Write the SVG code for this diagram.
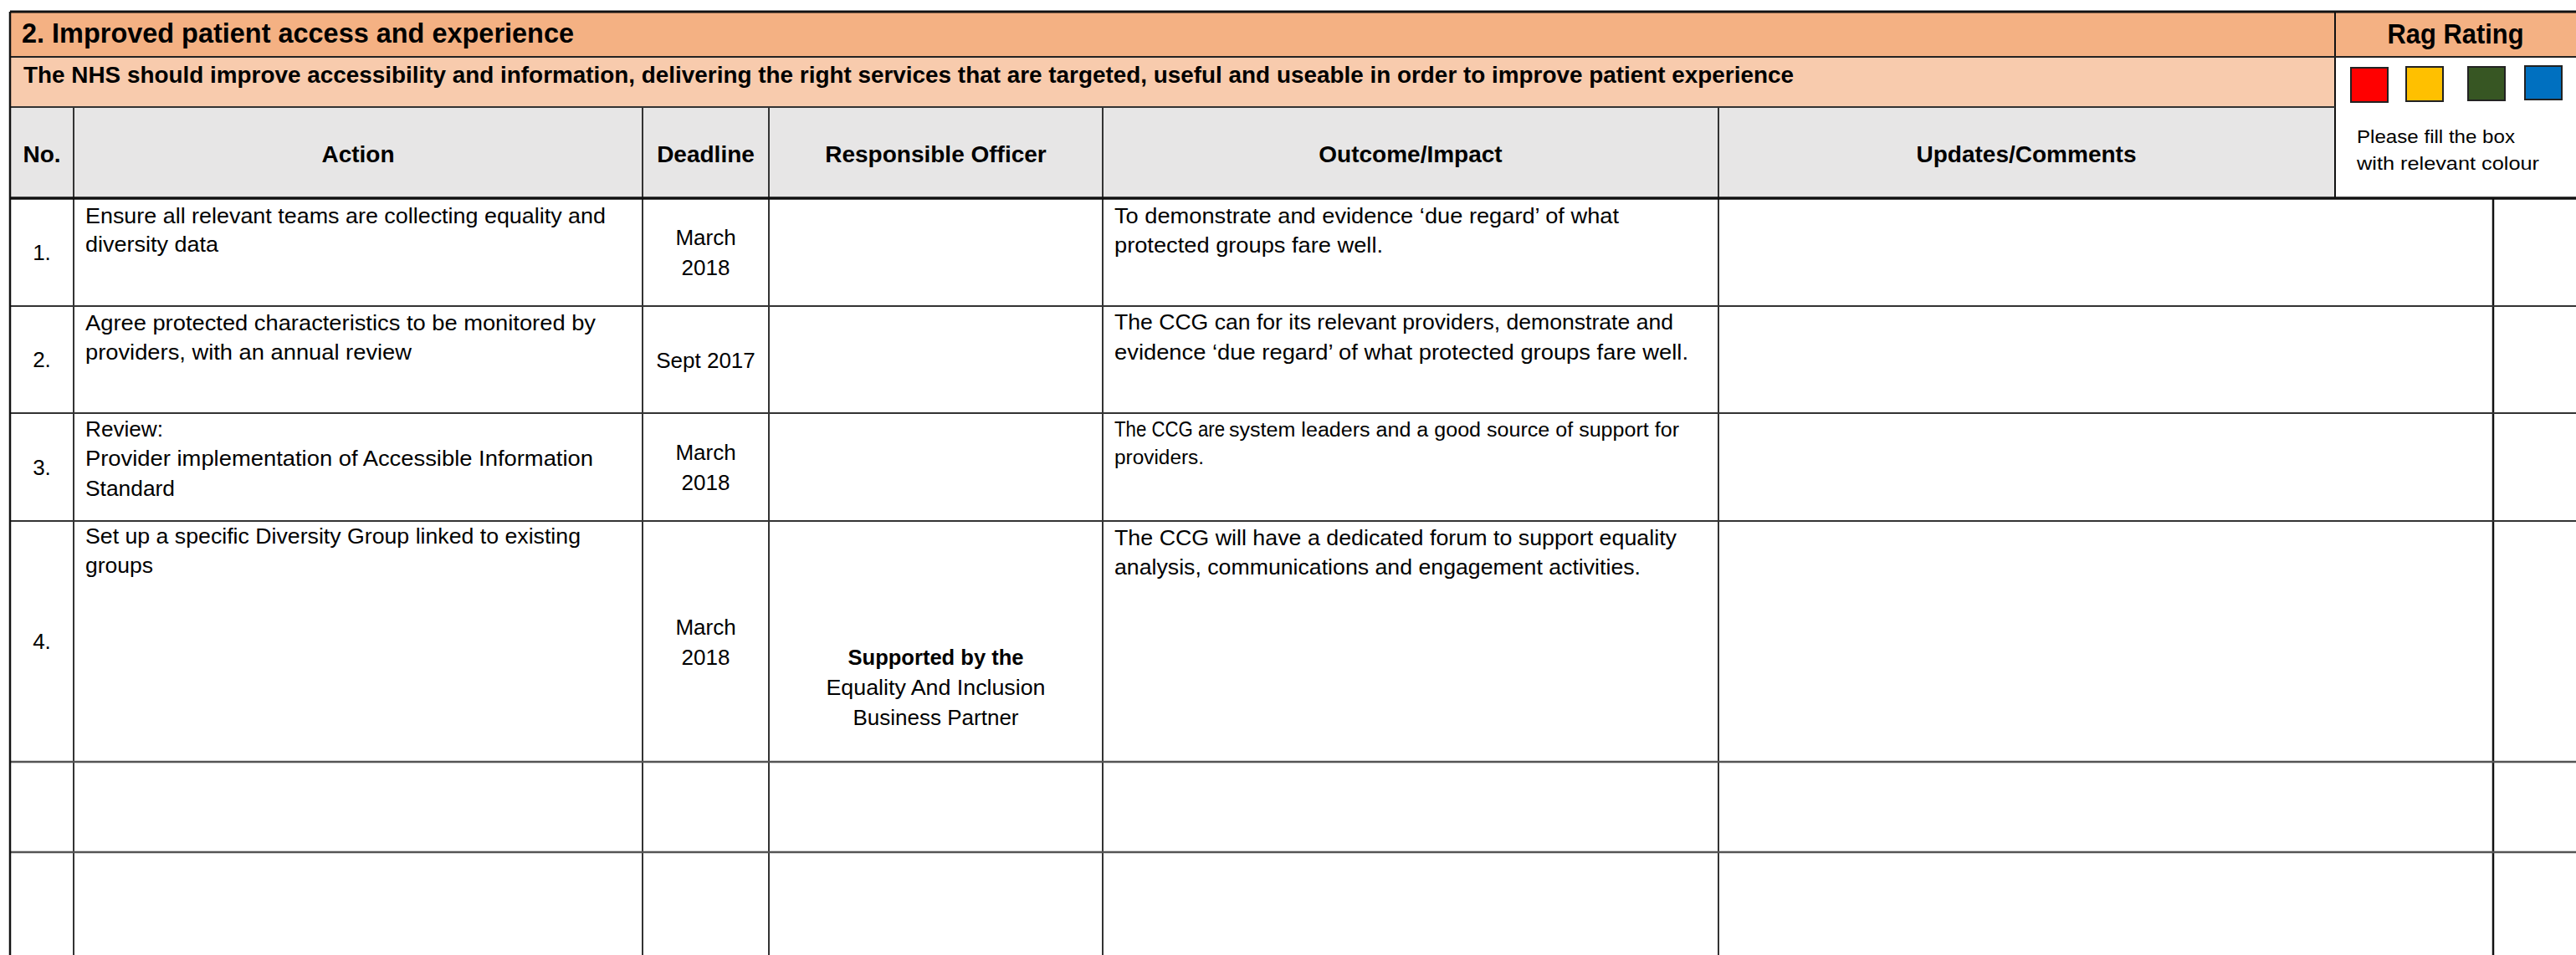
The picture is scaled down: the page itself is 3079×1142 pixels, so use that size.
<svg xmlns="http://www.w3.org/2000/svg" width="3079" height="1142" viewBox="0 0 3079 1142">
<style>
text{font-family:"Liberation Sans",Arial,sans-serif;fill:#000}
.b{font-weight:bold}
.t{font-size:32.5px;font-weight:bold}
.h{font-size:28px;font-weight:bold}
.c{font-size:26px}
.s{font-size:23px}
.p{font-size:22px}
.m{text-anchor:middle}
.g line{stroke:#333;stroke-width:2}
.g .k{stroke:#111;stroke-width:3}
.g .d{stroke:#555;stroke-width:2.5}
.sq{stroke:#222;stroke-width:2}
</style>
<rect x="0" y="0" width="3079" height="1142" fill="#fff"/>
<g id="title-row">
<rect x="12" y="14" width="3067" height="54" fill="#F4B183"/>
<text class="t" x="26" y="51" textLength="660" lengthAdjust="spacingAndGlyphs">2. Improved patient access and experience</text>
<text class="t m" x="2935" y="52" textLength="163" lengthAdjust="spacingAndGlyphs">Rag Rating</text>
</g>
<g id="subtitle-row">
<rect x="12" y="68" width="2779" height="60" fill="#F8CBAD"/>
<text class="h" x="28" y="99" textLength="2116" lengthAdjust="spacingAndGlyphs">The NHS should improve accessibility and information, delivering the right services that are targeted, useful and useable in order to improve patient experience</text>
</g>
<g id="rag-legend">
<rect x="2791" y="68" width="288" height="169" fill="#fff"/>
<rect class="sq" x="2810" y="81" width="44" height="41" fill="#FF0000"/>
<rect class="sq" x="2876" y="80" width="44" height="41" fill="#FFC000"/>
<rect class="sq" x="2950" y="80" width="44" height="40" fill="#375623"/>
<rect class="sq" x="3018" y="79" width="44" height="40" fill="#0070C0"/>
<text class="p" x="2817" y="171" textLength="189" lengthAdjust="spacingAndGlyphs">Please fill the box</text>
<text class="p" x="2817" y="203" textLength="218" lengthAdjust="spacingAndGlyphs">with relevant colour</text>
</g>
<g id="header-row">
<rect x="12" y="128" width="2779" height="109" fill="#E7E6E6"/>
<text class="h m" x="50" y="194">No.</text>
<text class="h m" x="428" y="194">Action</text>
<text class="h m" x="843.5" y="194">Deadline</text>
<text class="h m" x="1118.5" y="194">Responsible Officer</text>
<text class="h m" x="1686" y="194">Outcome/Impact</text>
<text class="h m" x="2422" y="194">Updates/Comments</text>
</g>
<g id="row-1">
<text class="c m" x="50" y="311">1.</text>
<text class="c" x="102" y="267" textLength="622" lengthAdjust="spacingAndGlyphs">Ensure all relevant teams are collecting equality and</text>
<text class="c" x="102" y="301" textLength="159" lengthAdjust="spacingAndGlyphs">diversity data</text>
<text class="c m" x="843.5" y="293">March</text>
<text class="c m" x="843.5" y="329">2018</text>
<text class="c" x="1332" y="267" textLength="603" lengthAdjust="spacingAndGlyphs">To demonstrate and evidence ‘due regard’ of what</text>
<text class="c" x="1332" y="302" textLength="321" lengthAdjust="spacingAndGlyphs">protected groups fare well.</text>
</g>
<g id="row-2">
<text class="c m" x="50" y="439">2.</text>
<text class="c" x="102" y="395" textLength="610" lengthAdjust="spacingAndGlyphs">Agree protected characteristics to be monitored by</text>
<text class="c" x="102" y="430" textLength="390" lengthAdjust="spacingAndGlyphs">providers, with an annual review</text>
<text class="c m" x="843.5" y="440">Sept 2017</text>
<text class="c" x="1332" y="394" textLength="668" lengthAdjust="spacingAndGlyphs">The CCG can for its relevant providers, demonstrate and</text>
<text class="c" x="1332" y="430" textLength="686" lengthAdjust="spacingAndGlyphs">evidence ‘due regard’ of what protected groups fare well.</text>
</g>
<g id="row-3">
<text class="c m" x="50" y="568">3.</text>
<text class="c" x="102" y="522" textLength="93" lengthAdjust="spacingAndGlyphs">Review:</text>
<text class="c" x="102" y="557" textLength="607" lengthAdjust="spacingAndGlyphs">Provider implementation of Accessible Information</text>
<text class="c" x="102" y="593" textLength="107" lengthAdjust="spacingAndGlyphs">Standard</text>
<text class="c m" x="843.5" y="550">March</text>
<text class="c m" x="843.5" y="586">2018</text>
<text class="c" x="1332" y="522" textLength="132" lengthAdjust="spacingAndGlyphs">The CCG are</text>
<text class="s" x="1469" y="522" textLength="538" lengthAdjust="spacingAndGlyphs">system leaders and a good source of support for</text>
<text class="s" x="1332" y="555" textLength="107" lengthAdjust="spacingAndGlyphs">providers.</text>
</g>
<g id="row-4">
<text class="c m" x="50" y="776">4.</text>
<text class="c" x="102" y="650" textLength="592" lengthAdjust="spacingAndGlyphs">Set up a specific Diversity Group linked to existing</text>
<text class="c" x="102" y="685" textLength="81" lengthAdjust="spacingAndGlyphs">groups</text>
<text class="c m" x="843.5" y="759">March</text>
<text class="c m" x="843.5" y="795">2018</text>
<text class="c b m" x="1118.5" y="795" textLength="210" lengthAdjust="spacingAndGlyphs">Supported by the</text>
<text class="c m" x="1118.5" y="831" textLength="262" lengthAdjust="spacingAndGlyphs">Equality And Inclusion</text>
<text class="c m" x="1118.5" y="867" textLength="198" lengthAdjust="spacingAndGlyphs">Business Partner</text>
<text class="c" x="1332" y="652" textLength="672" lengthAdjust="spacingAndGlyphs">The CCG will have a dedicated forum to support equality</text>
<text class="c" x="1332" y="687" textLength="629" lengthAdjust="spacingAndGlyphs">analysis, communications and engagement activities.</text>
</g>
<g id="grid" class="g">
<line x1="88" y1="128" x2="88" y2="1142"/>
<line x1="768" y1="128" x2="768" y2="1142"/>
<line x1="919" y1="128" x2="919" y2="1142"/>
<line x1="1318" y1="128" x2="1318" y2="1142"/>
<line x1="2054" y1="128" x2="2054" y2="1142"/>
<line class="k" x1="2791" y1="14" x2="2791" y2="237" style="stroke-width:2"/>
<line class="k" x1="2980" y1="237" x2="2980" y2="1142" style="stroke-width:2.5"/>
<line x1="12" y1="68" x2="3079" y2="68" style="stroke:#222"/>
<line x1="12" y1="128" x2="2791" y2="128"/>
<line x1="12" y1="366" x2="3079" y2="366"/>
<line x1="12" y1="494" x2="3079" y2="494"/>
<line x1="12" y1="623" x2="3079" y2="623"/>
<line class="d" x1="12" y1="911" x2="3079" y2="911"/>
<line class="d" x1="12" y1="1019" x2="3079" y2="1019"/>
<line class="k" x1="12" y1="237" x2="3079" y2="237" style="stroke-width:3.5"/>
<line class="k" x1="12" y1="14" x2="3079" y2="14"/>
<line class="k" x1="12" y1="14" x2="12" y2="1142" style="stroke-width:2.5"/>
</g>
</svg>
